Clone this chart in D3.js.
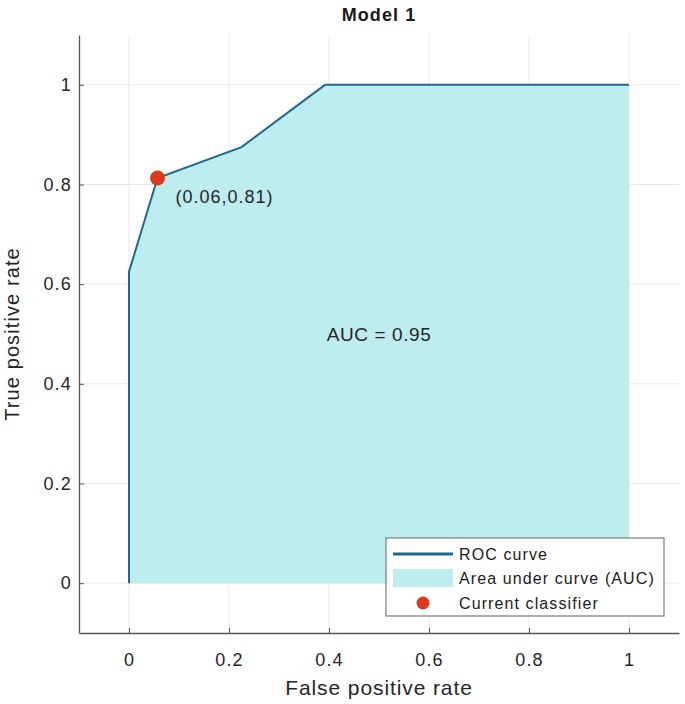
<!DOCTYPE html>
<html>
<head>
<meta charset="utf-8">
<script src="https://cdn.jsdelivr.net/npm/d3@7"></script>
<style>
  html, body { margin: 0; padding: 0; background: #fff; }
  svg { display: block; font-family: "Liberation Sans", Arial, sans-serif; }
</style>
</head>
<body>
<div id="chart"></div>
<script>
// ROC curve points (false positive rate, true positive rate)
const fpr = [0, 0, 0.057, 0.225, 0.392, 1];
const tpr = [0, 0.625, 0.813, 0.875, 1, 1];
const current = { fpr: 0.057, tpr: 0.813, label: "(0.06,0.81)" };
const aucLabel = "AUC = 0.95";
const xTicks = [0, 0.2, 0.4, 0.6, 0.8, 1];
const yTicks = [0, 0.2, 0.4, 0.6, 0.8, 1];
const legendItems = ["ROC curve", "Area under curve (AUC)", "Current classifier"];

const W = 685, H = 704;
const lineColor = "#1d6a93";
const fillColor = "#bdedef";
const dotColor = "#dc3a1c";
const textColor = "#262626";

const svg = d3.select("#chart").append("svg")
  .attr("width", W).attr("height", H);

const x = d3.scaleLinear().domain([-0.1, 1.1]).range([79, 679]);
const y = d3.scaleLinear().domain([-0.1, 1.1]).range([633, 35]);

// grid
const grid = svg.append("g").attr("stroke", "#e8e8e8").attr("stroke-width", 1);
grid.selectAll("line.v").data(xTicks).join("line")
  .attr("x1", d => x(d)).attr("x2", d => x(d))
  .attr("y1", y.range()[1]).attr("y2", y.range()[0]);
grid.selectAll("line.h").data(yTicks).join("line")
  .attr("x1", x.range()[0]).attr("x2", x.range()[1])
  .attr("y1", d => y(d)).attr("y2", d => y(d));

const pts = fpr.map((f, i) => [f, tpr[i]]);

// area under curve
svg.append("path")
  .datum(pts)
  .attr("fill", fillColor)
  .attr("d", d3.area().x(d => x(d[0])).y0(y(0)).y1(d => y(d[1])));

// ROC line
svg.append("path")
  .datum(pts)
  .attr("fill", "none")
  .attr("stroke", lineColor)
  .attr("stroke-width", 2)
  .attr("d", d3.line().x(d => x(d[0])).y(d => y(d[1])));

// axes
const xAxis = svg.append("g")
  .attr("transform", `translate(0,${y.range()[0]})`)
  .call(d3.axisBottom(x).tickValues(xTicks).tickFormat(d3.format("~g")).tickSizeInner(-5).tickSizeOuter(0).tickPadding(20));
const yAxis = svg.append("g")
  .attr("transform", `translate(${x.range()[0]},0)`)
  .call(d3.axisLeft(y).tickValues(yTicks).tickFormat(d3.format("~g")).tickSizeInner(-5).tickSizeOuter(0).tickPadding(7));

[xAxis, yAxis].forEach(g => {
  g.select(".domain").attr("stroke", "#555").attr("stroke-width", 1.3);
  g.selectAll(".tick line").attr("stroke", "#555");
  g.selectAll(".tick text").attr("fill", textColor)
    .style("font-size", "18px").style("letter-spacing", "1.2px");
});

// current classifier
svg.append("circle")
  .attr("cx", x(current.fpr)).attr("cy", y(current.tpr))
  .attr("r", 7.5).attr("fill", dotColor);
svg.append("text")
  .attr("x", x(current.fpr) + 18).attr("y", y(current.tpr) + 25)
  .attr("fill", textColor).style("font-size", "18px").style("letter-spacing", "1px")
  .text(current.label);

svg.append("text")
  .attr("x", x(0.5)).attr("y", y(0.5) + 7)
  .attr("text-anchor", "middle")
  .attr("fill", textColor).style("font-size", "19px").style("letter-spacing", "0.6px")
  .text(aucLabel);

// titles
svg.append("text")
  .attr("x", x(0.5)).attr("y", 21)
  .attr("text-anchor", "middle").attr("font-weight", "bold")
  .attr("fill", "#1a1a1a").style("font-size", "18px").style("letter-spacing", "1.1px")
  .text("Model 1");
svg.append("text")
  .attr("x", x(0.5)).attr("y", 695)
  .attr("text-anchor", "middle")
  .attr("fill", textColor).style("font-size", "21px").style("letter-spacing", "0.9px")
  .text("False positive rate");
svg.append("text")
  .attr("transform", `translate(19,${y(0.5)}) rotate(-90)`)
  .attr("text-anchor", "middle")
  .attr("fill", textColor).style("font-size", "20px").style("letter-spacing", "1.1px")
  .text("True positive rate");

// legend
const lg = svg.append("g").attr("transform", "translate(386,538)");
lg.append("rect").attr("width", 278).attr("height", 78)
  .attr("fill", "#fff").attr("stroke", "#7a7a7a").attr("stroke-width", 1.2);
const rowY = [16, 40, 65];
lg.append("line").attr("x1", 7).attr("x2", 67).attr("y1", rowY[0]).attr("y2", rowY[0])
  .attr("stroke", lineColor).attr("stroke-width", 3);
lg.append("rect").attr("x", 7).attr("y", rowY[1] - 9).attr("width", 60).attr("height", 18)
  .attr("fill", fillColor);
lg.append("circle").attr("cx", 37).attr("cy", rowY[2]).attr("r", 6.5).attr("fill", dotColor);
lg.selectAll("text.item").data(legendItems).join("text")
  .attr("x", 73).attr("y", (d, i) => rowY[i] + 6)
  .attr("fill", "#1a1a1a").style("font-size", "16px").style("letter-spacing", "1.1px")
  .text(d => d);
</script>
</body>
</html>
